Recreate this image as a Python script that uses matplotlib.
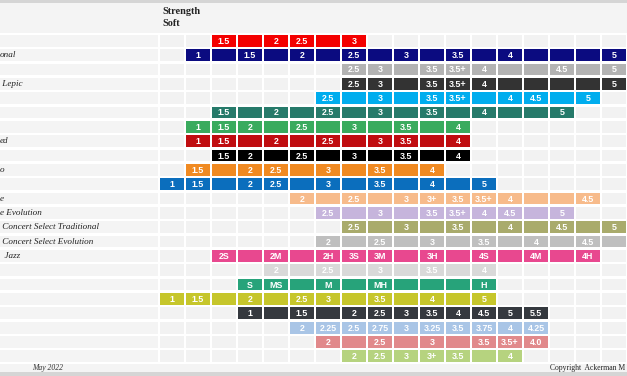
"""
Reed strength comparison chart (cropped view).
"""

import matplotlib
matplotlib.use("Agg")
import matplotlib.pyplot as plt
from matplotlib.patches import Rectangle

# ---- data -------------------------------------------------------------------
ROW_NAMES = [
    "", "onal", "", " Lepic", "", "", "", "ed", "", "o", "",
    "e", "e Evolution", " Concert Select Traditional", " Concert Select Evolution",
    "  Jazz", "", "", "", "", "", "", "",
]

ROW_COLORS = [
    "#f40000", "#0b0b80", "#b3b3b3", "#333333", "#00adee", "#267a6a",
    "#3aab5e", "#c00d10", "#000000", "#f08a22", "#0b6ebd", "#f7bb8b",
    "#c6b5dc", "#a9ab6c", "#bfbfbf", "#e8488f", "#d9d9d9", "#27a37a",
    "#c6c62b", "#35393f", "#a9c5e6", "#e1898b", "#b6d37f",
]

ROW_START = [2, 1, 7, 7, 6, 2, 1, 1, 2, 1, 0, 5, 6, 7, 6, 2, 4, 3, 0, 3, 5, 6, 7]

ROW_CELLS = [
    ["1.5", "", "2", "2.5", "", "3"],
    ["1", "", "1.5", "", "2", "", "2.5", "", "3", "", "3.5", "", "4", "", "", "", "5"],
    ["2.5", "3", "", "3.5", "3.5+", "4", "", "", "4.5", "", "5"],
    ["2.5", "3", "", "3.5", "3.5+", "4", "", "", "", "", "5"],
    ["2.5", "", "3", "", "3.5", "3.5+", "", "4", "4.5", "", "5"],
    ["1.5", "", "2", "", "2.5", "", "3", "", "3.5", "", "4", "", "", "5"],
    ["1", "1.5", "2", "", "2.5", "", "3", "", "3.5", "", "4"],
    ["1", "1.5", "", "2", "", "2.5", "", "3", "3.5", "", "4"],
    ["1.5", "2", "", "2.5", "", "3", "", "3.5", "", "4"],
    ["1.5", "", "2", "2.5", "", "3", "", "3.5", "", "4"],
    ["1", "1.5", "", "2", "2.5", "", "3", "", "3.5", "", "4", "", "5"],
    ["2", "", "2.5", "", "3", "3+", "3.5", "3.5+", "4", "", "", "4.5"],
    ["2.5", "", "3", "", "3.5", "3.5+", "4", "4.5", "", "5"],
    ["2.5", "", "3", "", "3.5", "", "4", "", "4.5", "", "5"],
    ["2", "", "2.5", "", "3", "", "3.5", "", "4", "", "4.5", ""],
    ["2S", "", "2M", "", "2H", "3S", "3M", "", "3H", "", "4S", "", "4M", "", "4H"],
    ["2", "", "2.5", "", "3", "", "3.5", "", "4"],
    ["S", "MS", "", "M", "", "MH", "", "", "", "H"],
    ["1", "1.5", "", "2", "", "2.5", "3", "", "3.5", "", "4", "", "5"],
    ["1", "", "1.5", "", "2", "2.5", "3", "3.5", "4", "4.5", "5", "5.5"],
    ["2", "2.25", "2.5", "2.75", "3", "3.25", "3.5", "3.75", "4", "4.25"],
    ["2", "", "2.5", "", "3", "", "3.5", "3.5+", "4.0"],
    ["2", "2.5", "3", "3+", "3.5", "", "4"],
]

N_COLS = 18
HEADER = ["Strength", "Soft"]
FOOT_LEFT = "May 2022"
FOOT_RIGHT = "Copyright  Ackerman M"

# ---- layout (pixels) ---------------------------------------------------------
W, H = 627, 376
COL_PX, ROW_PX = 26.0, 14.34
GRID_X0, GRID_Y0 = 160.0, 35.0
CELL_W = 24.0 / COL_PX
CELL_H = 11.7 / ROW_PX
EMPTY = "#f2f2f2"
PANEL = "#f4f4f4"
BAR = "#d5d5d5"

fig = plt.figure(figsize=(W / 100, H / 100), dpi=100)
fig.patch.set_facecolor("white")
ax = fig.add_axes([0, 0, 1, 1])
ax.set_xlim(-GRID_X0 / COL_PX, (W - GRID_X0) / COL_PX)
ax.set_ylim((H - GRID_Y0) / ROW_PX, -GRID_Y0 / ROW_PX)
ax.axis("off")

x_min = -GRID_X0 / COL_PX
x_max = (W - GRID_X0) / COL_PX
n_rows = len(ROW_CELLS)

def py(p):
    # pixel row -> row units
    return (p - GRID_Y0) / ROW_PX

# top bar + header panel
ax.add_patch(Rectangle((x_min, py(0)), x_max - x_min, py(3) - py(0), color=BAR, lw=0))
ax.add_patch(Rectangle((x_min, py(3)), x_max - x_min, py(33) - py(3), color=PANEL, lw=0))
# footer panel + bottom bar
ax.add_patch(Rectangle((x_min, py(363.5)), x_max - x_min, py(372) - py(363.5), color=PANEL, lw=0))
ax.add_patch(Rectangle((x_min, py(372)), x_max - x_min, py(376) - py(372), color=BAR, lw=0))

ax.text(2 / COL_PX, py(11), HEADER[0], family="Liberation Serif", weight="bold",
        fontsize=7.4, va="center", ha="left", color="#222222")
ax.text(2 / COL_PX, py(24), HEADER[1], family="Liberation Serif", weight="bold",
        fontsize=7.4, va="center", ha="left", color="#222222")

for r in range(n_rows):
    # label column
    ax.add_patch(Rectangle((x_min, r), -2 / COL_PX - x_min, CELL_H, color=PANEL, lw=0))
    if ROW_NAMES[r]:
        ax.text(x_min, r + CELL_H / 2, ROW_NAMES[r], family="Liberation Serif",
                style="italic", fontsize=6.6, va="center", ha="left", color="#222222")
    start = ROW_START[r]
    cells = ROW_CELLS[r]
    for c in range(N_COLS):
        k = c - start
        filled = 0 <= k < len(cells)
        ax.add_patch(Rectangle((c, r), CELL_W, CELL_H,
                               color=ROW_COLORS[r] if filled else EMPTY, lw=0))
        if filled and cells[k]:
            ax.text(c + CELL_W / 2, r + CELL_H / 2 + 0.03, cells[k], ha="center",
                    va="center", family="Liberation Sans", weight="bold",
                    fontsize=6.4, color="white")

ax.text(x_min + 32 / COL_PX, py(368), FOOT_LEFT, family="Liberation Serif",
        style="italic", fontsize=5.5, va="center", ha="left", color="#333333")
ax.text(x_min + 625 / COL_PX, py(367.5), FOOT_RIGHT, family="Liberation Serif",
        fontsize=5.5, va="center", ha="right", color="#222222")

fig.savefig("out.png", dpi=100, facecolor=fig.get_facecolor())
